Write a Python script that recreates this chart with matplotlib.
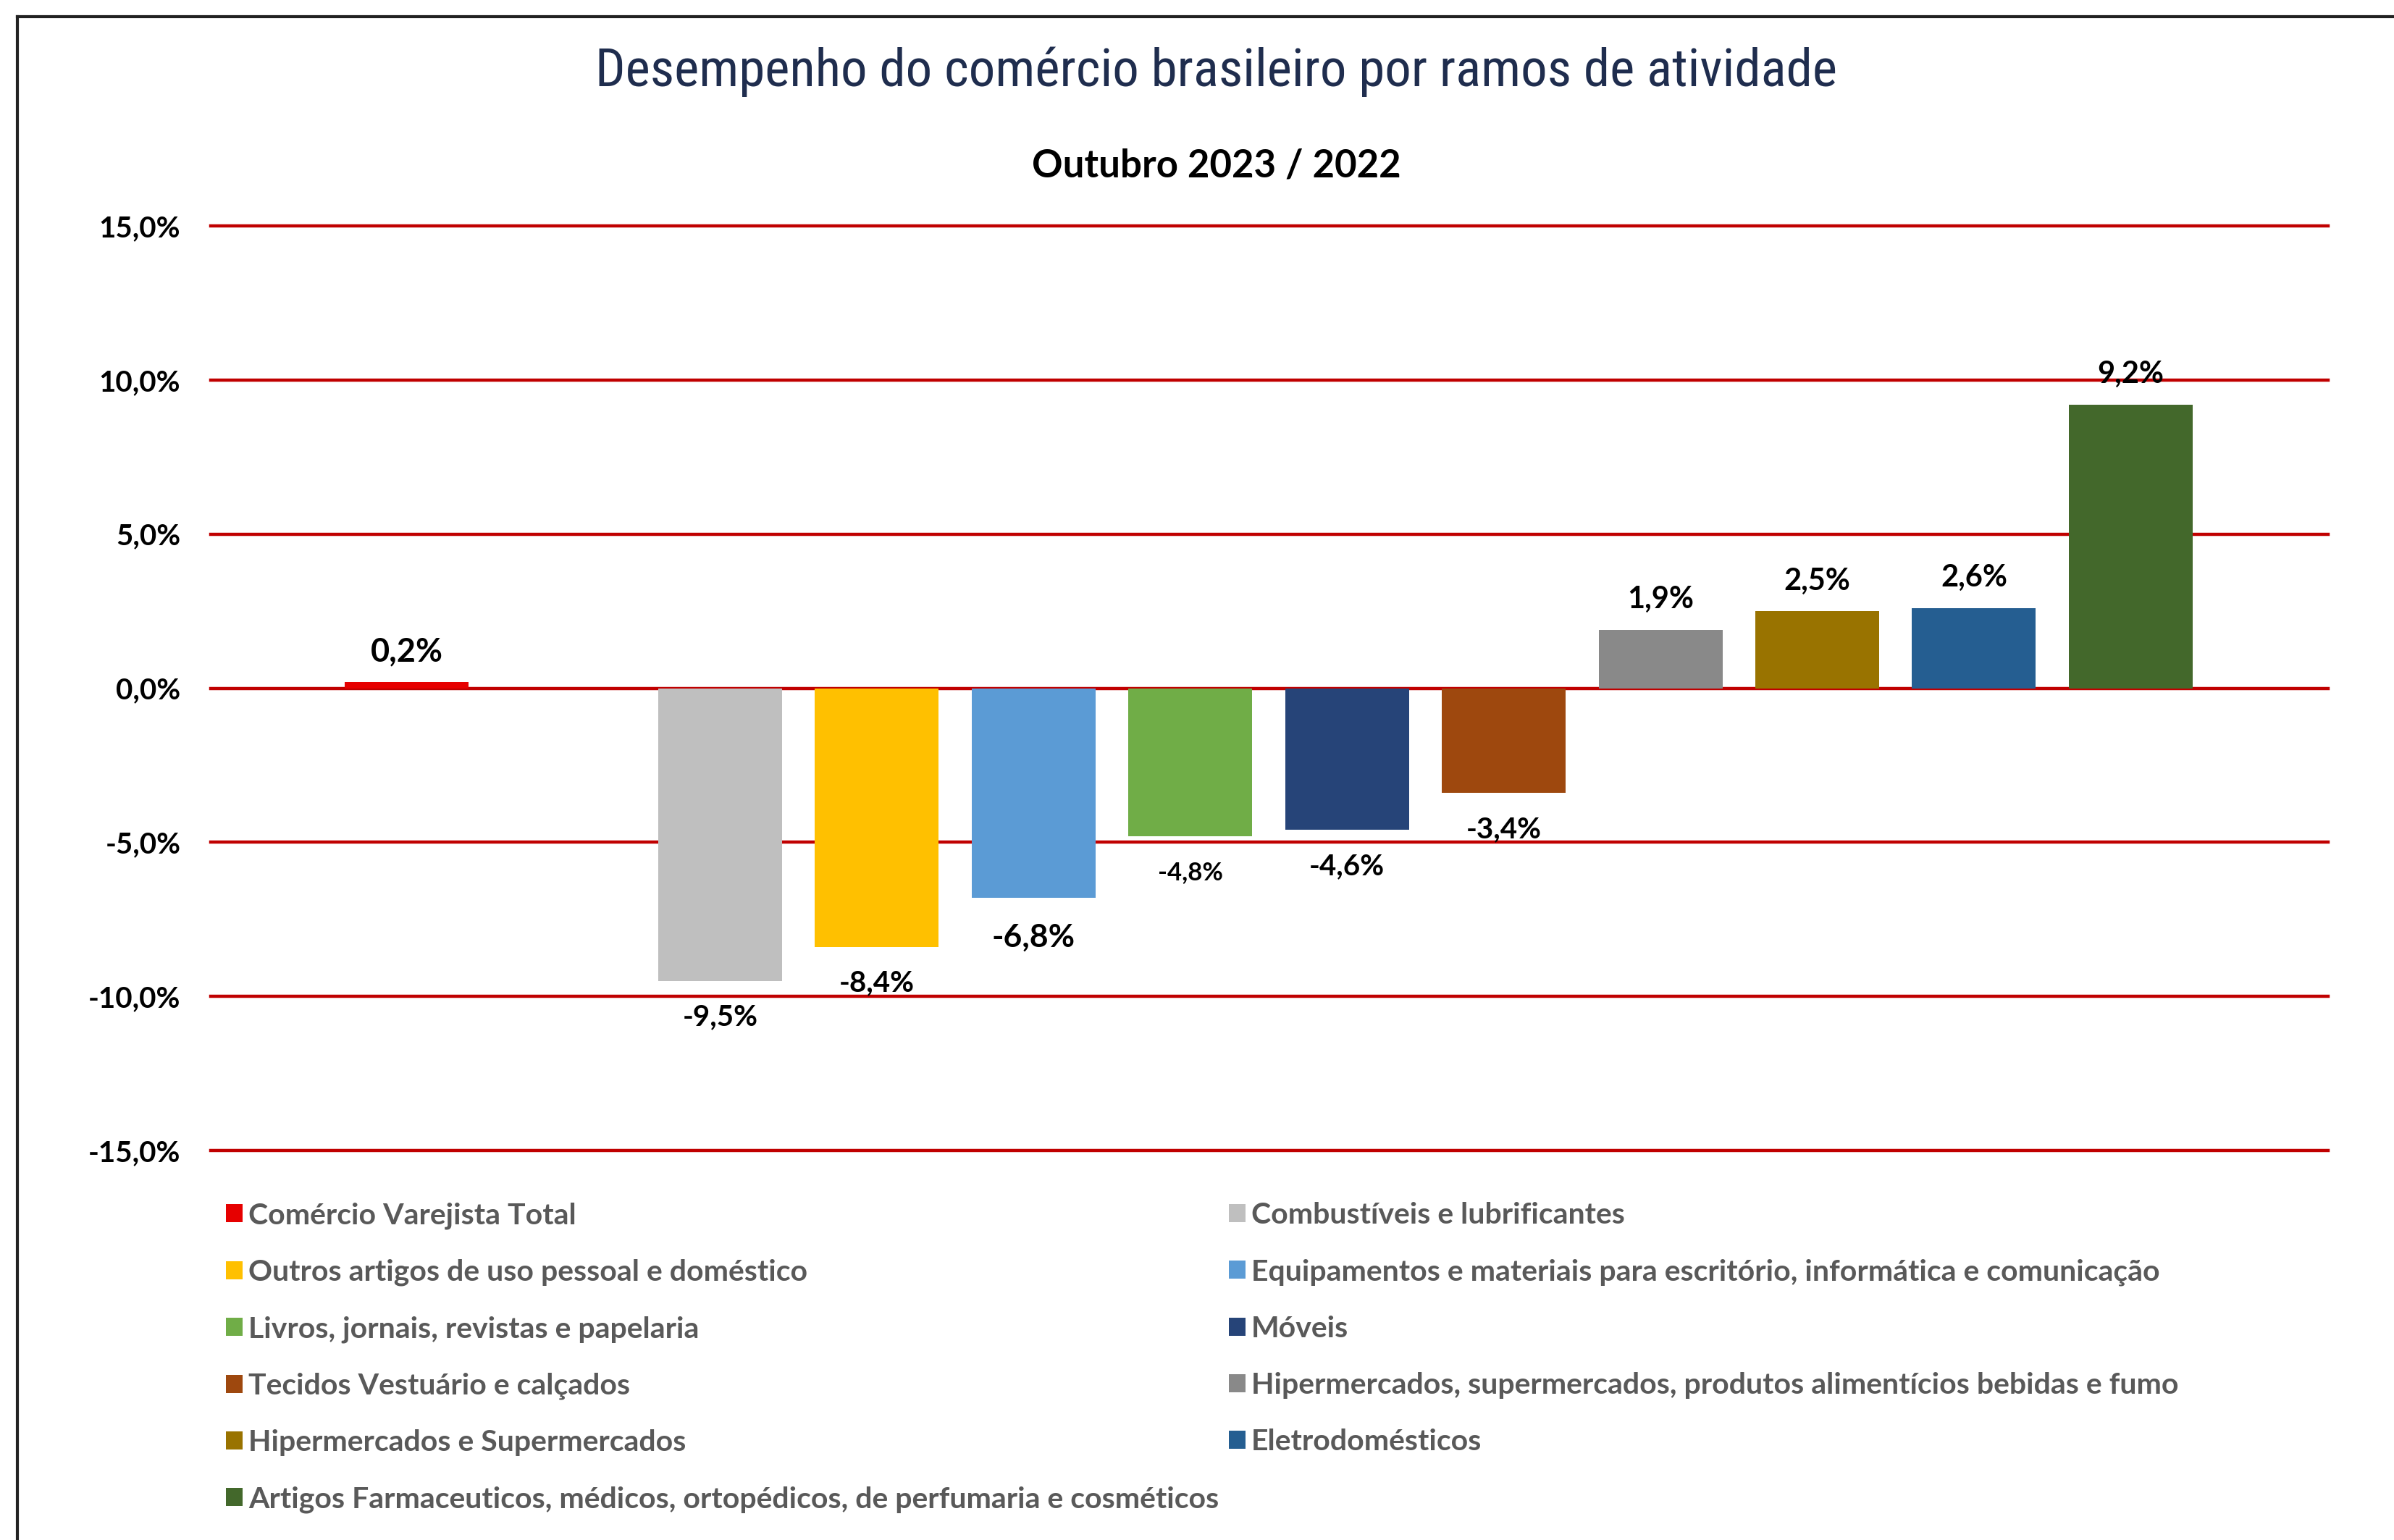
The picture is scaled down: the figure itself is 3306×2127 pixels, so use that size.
import matplotlib
matplotlib.use("Agg")
import matplotlib.pyplot as plt
from matplotlib import font_manager
from matplotlib.lines import Line2D
from matplotlib.patches import Patch


def pick_font(names):
    for n in names:
        try:
            font_manager.findfont(n, fallback_to_default=False)
            return n
        except Exception:
            pass
    return 'DejaVu Sans'


NARROW = pick_font(['Roboto Condensed', 'Roboto'])
BODY = pick_font(['Lato', 'Open Sans'])

# data
categorias = [
    'Comércio Varejista Total',
    'Combustíveis e lubrificantes',
    'Outros artigos de uso pessoal e doméstico',
    'Equipamentos e materiais para escritório, informática e comunicação',
    'Livros, jornais, revistas e papelaria',
    'Móveis',
    'Tecidos Vestuário e calçados',
    'Hipermercados, supermercados, produtos alimentícios bebidas e fumo',
    'Hipermercados e Supermercados',
    'Eletrodomésticos',
    'Artigos Farmaceuticos, médicos, ortopédicos, de perfumaria e cosméticos',
]
valores = [0.2, -9.5, -8.4, -6.8, -4.8, -4.6, -3.4, 1.9, 2.5, 2.6, 9.2]
posicoes = [0, 2, 3, 4, 5, 6, 7, 8, 9, 10, 11]
cores = ['#E60000', '#BFBFBF', '#FFC000', '#5B9BD5', '#70AD47', '#264478',
         '#9E480E', '#898989', '#997300', '#255E91', '#43682B']
rotulos = ['0,2%', '-9,5%', '-8,4%', '-6,8%', '-4,8%', '-4,6%', '-3,4%',
           '1,9%', '2,5%', '2,6%', '9,2%']
tam_rotulos = [32.5, 29, 29, 32, 25, 29, 29, 30, 30, 30, 30]
yticks = [-15, -10, -5, 0, 5, 10, 15]
ytick_labels = ['-15,0%', '-10,0%', '-5,0%', '0,0%', '5,0%', '10,0%', '15,0%']

fig = plt.figure(figsize=(33.06, 21.27), dpi=100)
ax = fig.add_axes([0.088, 0.2529, 0.8845, 0.6004])

for y in yticks:
    ax.axhline(y, color='#C00000', lw=3.2, zorder=1, clip_on=False)

bars = ax.bar(posicoes, valores, width=0.79, color=cores, zorder=2)

for x, v, lab, fs in zip(posicoes, valores, rotulos, tam_rotulos):
    off = 30 if v >= 0 else -36
    if lab == '-6,8%':
        off = -39
    ax.annotate(lab, (x, v), xytext=(0, off), textcoords='offset points',
                ha='center', va='center', fontsize=fs, fontweight='bold',
                family=BODY, color='black')

ax.set_xlim(-1.25, 12.26)
ax.set_ylim(-15, 15)
ax.set_xticks([])
ax.set_yticks(yticks)
ax.set_yticklabels(ytick_labels, fontsize=29, fontweight='bold', family=BODY)
ax.tick_params(axis='y', length=0, pad=30)
for s in ax.spines.values():
    s.set_visible(False)

fig.text(0.508, 0.9534, 'Desempenho do comércio brasileiro por ramos de atividade',
         ha='center', va='center', fontsize=52.6, color='#1F2D4E', family=NARROW)
fig.text(0.508, 0.8922, 'Outubro 2023 / 2022', ha='center', va='center',
         fontsize=38, fontweight='bold', color='black', family=BODY)

# legend, row-major order in two columns
handles = [Patch(facecolor=c) for c in cores]
ordem = [0, 2, 4, 6, 8, 10, 1, 3, 5, 7, 9]
leg = fig.legend([handles[i] for i in ordem], [categorias[i] for i in ordem],
                 ncol=2, loc='upper left', bbox_to_anchor=(0.0944, 0.2194),
                 borderpad=0, borderaxespad=0,
                 frameon=False, handlelength=0.55, handleheight=0.55,
                 handletextpad=0.2, labelspacing=1.0, columnspacing=0.35,
                 prop={'family': BODY, 'weight': 'bold', 'size': 29.5})
for t in leg.get_texts():
    t.set_color('#595959')

# frame lines of the image
fig.add_artist(Line2D([0.0072, 1], [0.989, 0.989], color='#222222', lw=3))
fig.add_artist(Line2D([0.0072, 0.0072], [0, 0.989], color='#222222', lw=3))

fig.savefig('out.png', dpi=100, facecolor='white')
